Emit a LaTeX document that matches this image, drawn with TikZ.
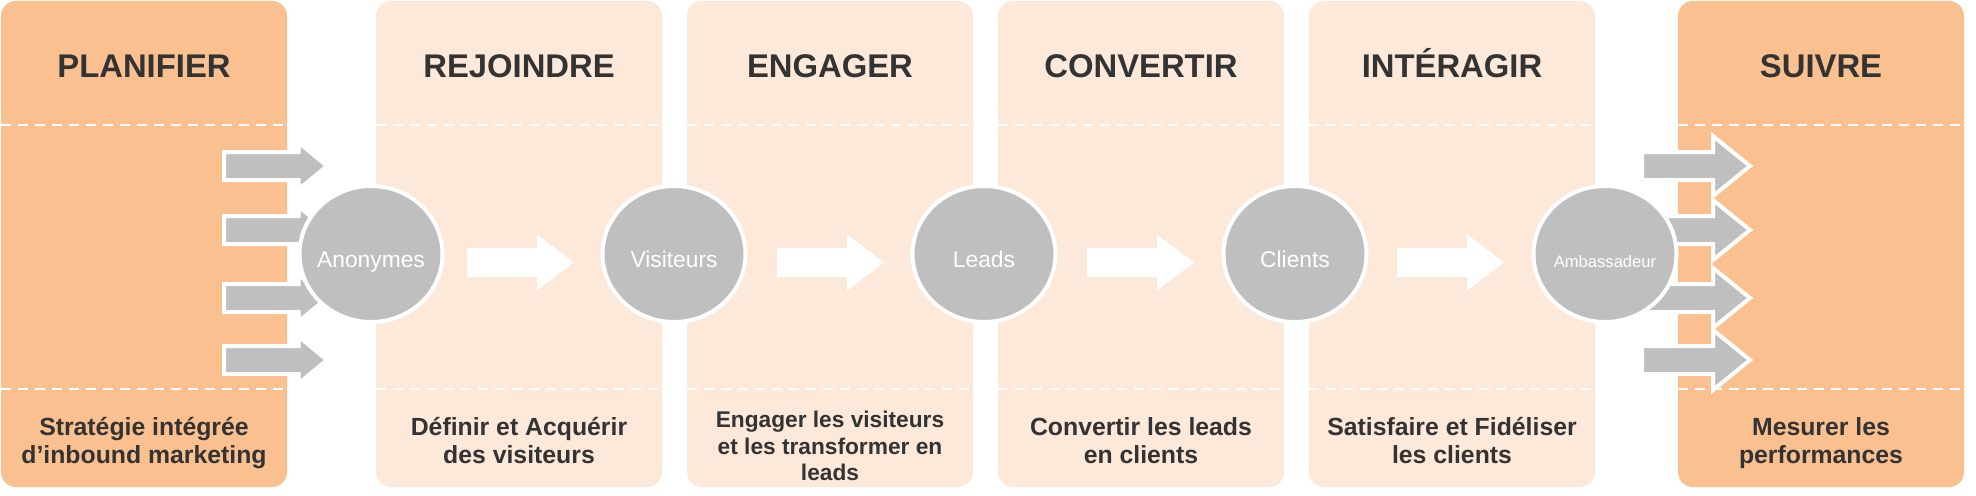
\documentclass[tikz,border=0pt]{standalone}
\usepackage{fontspec}
\setmainfont{Liberation Sans}
\usetikzlibrary{shapes.geometric,calc}
\definecolor{darkor}{HTML}{FAC090}
\definecolor{lightor}{HTML}{FDE9D9}
\definecolor{arrgray}{HTML}{BFBFBF}
\definecolor{txt}{HTML}{333333}
% #1 style, #2 x start, #3 y centre, #4 x head base, #5 x tip, #6 shaft half height, #7 head half height
\newcommand{\blockarrow}[7]{%
  \path[#1] (#2,#3-#6) -- (#4,#3-#6) -- (#4,#3-#7) -- (#5,#3) -- (#4,#3+#7) -- (#4,#3+#6) -- (#2,#3+#6) -- cycle;}
\begin{document}
\begin{tikzpicture}[x=0.5pt,y=-0.5pt,
  colA/.style={fill=darkor, rounded corners=7.5pt},
  colB/.style={fill=lightor, rounded corners=7.5pt},
  dashline/.style={draw=white, line width=1.4pt, dash pattern=on 5pt off 3.5pt},
  grayarrow/.style={fill=arrgray, draw=white, line width=2pt, miter limit=10},
  whitearrow/.style={fill=white},
  circ/.style={ellipse, fill=arrgray, draw=white, line width=2pt, minimum width=71.5pt, minimum height=68pt, inner sep=0pt},
  ctext/.style={font=\fontsize{11.4}{13}\selectfont, text=white, anchor=base, inner sep=0pt},
  csmall/.style={font=\fontsize{8.3}{10}\selectfont, text=white, anchor=base, inner sep=0pt},
  title/.style={font=\fontsize{16.4}{19}\selectfont\bfseries, text=txt, anchor=base, inner sep=0pt},
  desc/.style={font=\fontsize{12.4}{14}\selectfont\bfseries, text=txt, anchor=base, inner sep=0pt},
  descs/.style={font=\fontsize{11.35}{13.5}\selectfont\bfseries, text=txt, anchor=base, inner sep=0pt}]
\useasboundingbox (0,0) rectangle (1976,495);
\fill[white] (0,0) rectangle (1976,495);

% columns
\path[colA] (1,1) rectangle (287,487);
\path[colB] (376,1) rectangle (662,487);
\path[colB] (687,1) rectangle (973,487);
\path[colB] (998,1) rectangle (1284,487);
\path[colB] (1309,1) rectangle (1595,487);
\path[colA] (1678,1) rectangle (1964,487);

% dashed separators
\foreach \a/\b in {1/287,376/662,687/973,998/1284,1309/1595,1678/1964}{
  \draw[dashline] (\a,125) -- (\b,125);
  \draw[dashline] (\a,389) -- (\b,389);
}

% left gray arrows
\foreach \yy in {166,230,298,360}{
  \blockarrow{grayarrow}{224}{\yy}{298.5}{327}{14}{23.5}
}
% right gray arrows
\foreach \yy in {166,230,298,360}{
  \blockarrow{grayarrow}{1642}{\yy}{1713}{1750}{14}{30}
}
% white arrows
\foreach \xx in {467,777,1087,1397}{
  \blockarrow{whitearrow}{\xx}{262.5}{\xx+70}{\xx+107}{14.5}{28}
}

% circles
\node[circ] (c1) at (371,254) {};
\node[circ] (c2) at (674,254) {};
\node[circ] (c3) at (984,254) {};
\node[circ] (c4) at (1295,254) {};
\node[circ] (c5) at (1605,254) {};
\node[ctext] (t1) at ($(c1)+(0,13.5)$) {Anonymes};
\node[ctext] (t2) at ($(c2)+(0,13.5)$) {Visiteurs};
\node[ctext] (t3) at ($(c3)+(0,13.5)$) {Leads};
\node[ctext] (t4) at ($(c4)+(0,13.5)$) {Clients};
\node[csmall] (t5) at ($(c5)+(0,13)$) {Ambassadeur};

% titles
\node[title] (h1) at (144,77) {PLANIFIER};
\node[title] (h2) at (519,77) {REJOINDRE};
\node[title] (h3) at (830,77) {ENGAGER};
\node[title] (h4) at (1141,77) {CONVERTIR};
\node[title] (h5) at (1452,77) {INTÉRAGIR};
\node[title] (h6) at (1821,77) {SUIVRE};

% descriptions
\node[desc] (b1a) at (144,435) {Stratégie intégrée};
\node[desc] (b1b) at (144,463) {d’inbound marketing};
\node[desc] (b2a) at (519,435) {Définir et Acquérir};
\node[desc] (b2b) at (519,463) {des visiteurs};
\node[descs] (b3a) at (830,427) {Engager les visiteurs};
\node[descs] (b3b) at (830,454) {et les transformer en};
\node[descs] (b3c) at (830,480) {leads};
\node[desc] (b4a) at (1141,435) {Convertir les leads};
\node[desc] (b4b) at (1141,463) {en clients};
\node[desc] (b5a) at (1452,435) {Satisfaire et Fidéliser};
\node[desc] (b5b) at (1452,463) {les clients};
\node[desc] (b6a) at (1821,435) {Mesurer les};
\node[desc] (b6b) at (1821,463) {performances};
\end{tikzpicture}
\end{document}
